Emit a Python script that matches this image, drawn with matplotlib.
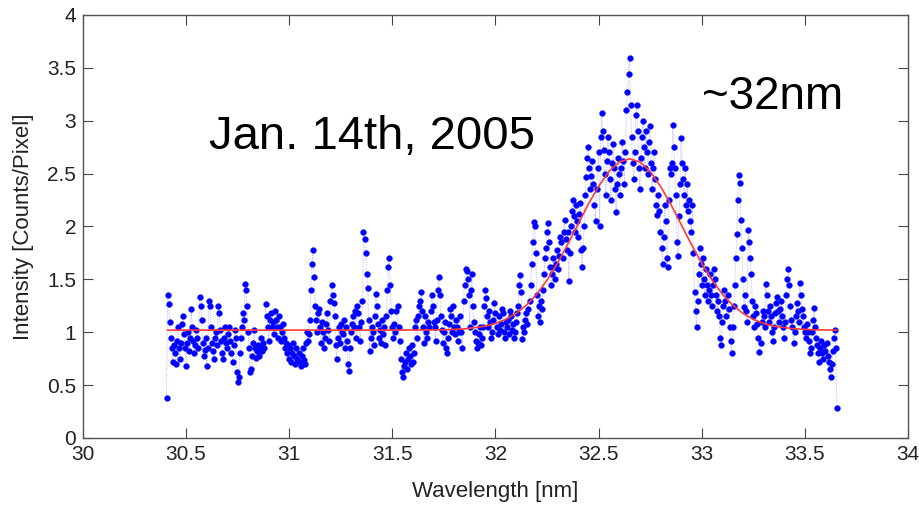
import numpy as np
import matplotlib.pyplot as plt

# =========================================================
# Data (step 0.005 nm from 30.405 nm)
# =========================================================

WL_START = 30.405
WL_STEP = 0.005

intensity = [
    0.38, 1.35, 1.27, 1.10, 0.95, 0.85, 0.72, 0.88, 0.80, 0.70, 0.92, 1.05, 0.85, 0.75, 0.90, 1.08, 1.15, 0.98, 0.85, 0.68,
    0.90, 1.00, 0.82, 0.95, 1.22, 1.05, 0.92, 0.80, 0.88, 1.02, 0.95, 0.85, 1.33, 1.25, 1.12, 0.90, 0.78, 0.83, 0.95, 0.68,
    0.85, 1.30, 1.25, 1.05, 0.90, 0.82, 0.75, 0.95, 1.00, 0.88, 1.25, 1.18, 1.02, 0.92, 0.80, 0.75, 0.95, 1.05, 0.90, 0.85,
    0.98, 1.05, 0.92, 0.80, 0.72, 0.88, 1.02, 0.95, 0.62, 0.53, 0.58, 0.80, 0.95, 1.05, 1.18, 1.12, 1.46, 1.40, 1.25, 1.00,
    0.85, 0.62, 0.65, 0.78, 0.90, 1.02, 0.85, 0.76, 0.82, 0.88, 0.78, 0.85, 0.95, 0.82, 0.90, 0.85, 1.27, 1.15, 1.05, 0.92,
    1.12, 1.18, 1.05, 1.10, 0.98, 1.20, 1.12, 1.05, 0.95, 1.15, 1.05, 0.92, 1.00, 1.08, 0.95, 0.85, 0.90, 0.80, 0.88, 0.75,
    0.85, 0.72, 0.80, 0.90, 0.78, 0.70, 0.85, 0.75, 0.80, 0.72, 0.68, 0.78, 0.85, 0.74, 0.70, 0.90, 1.00, 0.92, 0.98, 1.12,
    1.40, 1.65, 1.78, 1.52, 1.25, 1.12, 1.00, 1.18, 1.22, 1.05, 0.90, 1.10, 1.00, 0.85, 0.95, 1.08, 1.18, 1.02, 0.92, 1.30,
    1.45, 1.35, 1.28, 1.15, 0.88, 0.75, 0.95, 1.05, 0.90, 1.08, 1.00, 0.98, 1.12, 0.85, 1.05, 0.92, 0.70, 0.63, 0.85, 1.00,
    1.08, 1.15, 1.05, 1.20, 0.95, 1.25, 1.18, 1.05, 0.92, 1.10, 1.30, 1.95, 1.88, 1.75, 1.55, 1.42, 1.12, 0.82, 0.95, 1.05,
    1.00, 0.88, 1.15, 1.36, 1.25, 1.08, 0.95, 1.02, 0.90, 1.12, 0.98, 1.05, 0.88, 1.15, 1.40, 1.62, 1.70, 1.45, 1.20, 1.05,
    0.95, 1.08, 1.00, 1.20, 1.25, 1.05, 0.92, 0.75, 0.62, 0.58, 0.68, 0.72, 0.80, 0.65, 0.75, 0.85, 0.78, 0.70, 0.88, 0.72,
    0.80, 1.05, 1.12, 0.95, 1.15, 1.25, 1.30, 1.38, 1.20, 1.05, 0.90, 1.15, 1.00, 0.95, 1.10, 1.05, 1.20, 1.35, 1.25, 1.10,
    1.05, 0.92, 1.12, 1.40, 1.52, 1.35, 1.15, 1.02, 0.90, 1.00, 1.10, 0.85, 0.80, 0.95, 1.08, 1.22, 1.15, 1.00, 1.25, 1.05,
    0.98, 1.12, 1.05, 0.92, 1.00, 1.15, 1.00, 0.85, 1.30, 1.45, 1.60, 1.58, 1.50, 1.35, 1.05, 1.40, 1.55, 1.25, 1.10, 1.00,
    0.92, 0.85, 0.90, 0.98, 1.05, 0.88, 0.95, 1.05, 1.25, 1.40, 1.32, 1.15, 1.05, 1.20, 1.10, 0.95, 1.00, 1.12, 1.28, 1.18,
    1.05, 0.98, 1.15, 1.02, 1.08, 1.22, 1.18, 1.00, 0.95, 1.10, 1.05, 1.12, 0.98, 1.20, 1.15, 1.02, 1.08, 0.95, 1.00, 1.10,
    1.18, 1.25, 1.45, 1.54, 1.38, 0.94, 1.05, 1.00, 1.12, 1.18, 1.08, 1.22, 1.30, 1.45, 1.65, 1.85, 2.04, 2.00, 1.75, 1.35,
    1.15, 1.25, 1.10, 1.30, 1.22, 1.40, 1.55, 1.70, 1.80, 1.95, 2.03, 1.85, 1.62, 1.45, 1.55, 1.70, 1.62, 1.50, 1.65, 1.78,
    1.60, 1.72, 1.90, 1.85, 1.70, 1.95, 2.06, 1.88, 1.78, 1.95, 1.48, 1.75, 2.00, 2.15, 2.25, 2.10, 1.95, 2.20, 2.05, 1.90,
    2.12, 2.22, 1.78, 1.62, 1.80, 2.00, 2.30, 2.47, 2.65, 2.75, 2.55, 2.35, 2.48, 2.62, 2.40, 2.20, 2.05, 2.35, 2.55, 2.70,
    2.00, 2.85, 3.07, 2.90, 2.72, 2.50, 2.30, 2.62, 2.85, 2.70, 2.45, 2.25, 2.60, 2.78, 2.55, 2.35, 2.14, 2.40, 2.65, 2.50,
    2.30, 2.55, 2.80, 2.62, 2.40, 2.70, 3.10, 3.27, 3.44, 3.59, 3.15, 2.85, 2.60, 2.45, 2.70, 3.05, 3.15, 2.90, 2.55, 2.35,
    2.65, 2.85, 3.00, 2.75, 2.55, 2.90, 2.70, 2.50, 2.80, 2.95, 2.60, 2.35, 2.55, 2.70, 2.45, 2.20, 2.11, 2.30, 2.15, 1.95,
    1.80, 1.65, 1.90, 2.20, 2.05, 1.70, 1.62, 2.25, 2.55, 2.50, 2.60, 2.96, 2.75, 2.55, 2.30, 1.85, 1.72, 2.10, 2.40, 2.84,
    2.60, 2.45, 2.30, 2.55, 2.20, 2.40, 2.15, 2.25, 2.05, 1.95, 2.20, 1.75, 1.38, 1.20, 1.05, 1.30, 1.55, 1.80, 1.65, 1.45,
    1.70, 1.50, 1.35, 1.60, 1.45, 1.30, 1.40, 1.55, 1.35, 1.25, 1.45, 1.60, 1.50, 1.35, 1.20, 1.30, 1.15, 0.95, 0.88, 1.10,
    1.25, 1.40, 1.30, 1.15, 1.35, 1.22, 1.05, 0.92, 0.80, 1.05, 1.25, 1.45, 1.70, 1.93, 2.25, 2.49, 2.41, 2.06, 1.80, 1.50,
    1.24, 1.35, 1.20, 1.10, 1.97, 1.85, 1.70, 1.55, 1.30, 1.15, 1.05, 1.25, 1.18, 1.08, 0.95, 0.81, 0.90, 1.10, 1.20, 1.15,
    1.05, 1.46, 1.35, 1.20, 1.10, 1.25, 1.15, 1.00, 0.92, 1.05, 1.18, 1.28, 1.33, 1.20, 1.10, 1.22, 1.30, 1.15, 1.05, 0.95,
    1.10, 1.35, 1.50, 1.60, 1.45, 1.25, 1.12, 1.05, 0.90, 1.00, 1.15, 1.28, 1.20, 1.10, 1.47, 1.35, 1.22, 1.15, 1.05, 1.00,
    0.95, 1.08, 1.00, 0.92, 0.80, 0.85, 1.00, 1.12, 1.23, 1.05, 0.95, 0.88, 0.80, 0.72, 0.85, 0.92, 0.80, 0.75, 0.88, 0.82,
    0.90, 0.78, 0.72, 0.65, 0.58, 0.70, 0.82, 0.95, 1.02, 0.85, 0.28,
]

# Gaussian fit curve
fit_wl = [
    30.41, 31.50, 31.75, 31.85, 31.95, 32.00, 32.05, 32.10, 32.15, 32.20,
    32.25, 32.30, 32.35, 32.40, 32.45, 32.50, 32.55, 32.60, 32.65, 32.70,
    32.75, 32.80, 32.85, 32.90, 32.95, 33.00, 33.05, 33.10, 33.15, 33.20,
    33.25, 33.30, 33.35, 33.45, 33.55, 33.655,
]
fit_val = [
    1.02, 1.02, 1.023, 1.032, 1.057, 1.083, 1.122, 1.178, 1.257, 1.36,
    1.493, 1.65, 1.83, 2.02, 2.21, 2.38, 2.52, 2.61, 2.64, 2.61,
    2.52, 2.38, 2.21, 2.02, 1.83, 1.65, 1.493, 1.36, 1.257, 1.178,
    1.122, 1.083, 1.057, 1.032, 1.023, 1.02,
]

wavelength = WL_START + WL_STEP * np.arange(len(intensity))

# =========================================================
# Figure
# =========================================================

plt.rcParams["font.family"] = ["Liberation Sans", "DejaVu Sans"]

fig = plt.figure(figsize=(9.19, 5.08), dpi=100)
ax = fig.add_axes([0.0903, 0.1378, 0.8977, 0.8327])

# faint dotted connection between samples
ax.plot(
    wavelength,
    intensity,
    linestyle=":",
    linewidth=0.6,
    color="#a0a0ff",
    zorder=1
)

ax.plot(
    wavelength,
    intensity,
    linestyle="none",
    marker="o",
    markersize=4.2,
    markerfacecolor="#0000ff",
    markeredgecolor="#1a1aff",
    markeredgewidth=0.3,
    zorder=2
)

ax.plot(
    fit_wl,
    fit_val,
    color="#ff3a3a",
    linewidth=1.2,
    zorder=3
)

ax.set_xlim(30, 34)
ax.set_ylim(0, 4)
ax.set_xticks(np.arange(30, 34.01, 0.5))
ax.set_xticklabels(["30", "30.5", "31", "31.5", "32", "32.5", "33", "33.5", "34"])
ax.set_yticks(np.arange(0, 4.01, 0.5))
ax.set_yticklabels(["0", "0.5", "1", "1.5", "2", "2.5", "3", "3.5", "4"])

ax.tick_params(
    direction="in",
    length=7,
    width=0.8,
    colors="#444444",
    labelcolor="#222222",
    labelsize=15,
    top=True,
    right=True
)
ax.tick_params(axis="x", pad=5)
ax.tick_params(axis="y", pad=5)

for spine in ax.spines.values():
    spine.set_color("#555555")
    spine.set_linewidth(1.0)

ax.set_xlabel("Wavelength [nm]", fontsize=16, color="#222222", labelpad=12)
ax.set_ylabel("Intensity [Counts/Pixel]", fontsize=16, color="#222222", labelpad=9)

ax.text(30.61, 2.85, "Jan. 14th, 2005", fontsize=34, color="black",
        va="center", ha="left")
ax.text(33.0, 3.22, "~32nm", fontsize=33, color="black",
        va="center", ha="left")

fig.savefig("out.png", dpi=100)
